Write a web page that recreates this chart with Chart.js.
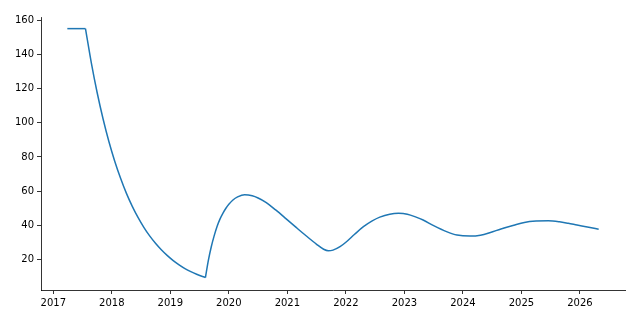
<!DOCTYPE html>
<html>
<head>
<meta charset="utf-8">
<script src="https://cdn.jsdelivr.net/npm/chart.js@4/dist/chart.umd.min.js"></script>
<style>
  html, body { margin: 0; padding: 0; background: #fff; }
  #wrap { width: 640px; height: 320px; }
</style>
</head>
<body>
<div id="wrap"><canvas id="chart" width="640" height="320"></canvas></div>
<script>
// values (x in fractional years)
var years = [
    2017.24, 2017.55, 2017.65, 2017.75, 2017.85, 2017.95, 2018.05, 2018.15, 2018.25, 2018.35,
    2018.45, 2018.55, 2018.65, 2018.75, 2018.85, 2018.95, 2019.05, 2019.15, 2019.25, 2019.35,
    2019.45, 2019.60, 2019.65, 2019.70, 2019.75, 2019.80, 2019.85, 2019.90, 2019.95, 2020.00,
    2020.07, 2020.15, 2020.27, 2020.40, 2020.50, 2020.64, 2020.80, 2020.98, 2021.15, 2021.33,
    2021.50, 2021.62, 2021.70, 2021.78, 2021.90, 2022.01, 2022.15, 2022.30, 2022.45, 2022.58,
    2022.75, 2022.90, 2023.05, 2023.20, 2023.32, 2023.50, 2023.72, 2023.90, 2024.12, 2024.30,
    2024.47, 2024.65, 2024.87, 2025.05, 2025.25, 2025.46, 2025.65, 2025.80, 2025.95, 2026.15,
    2026.32
];
var values = [
    155, 155, 135, 117.5, 102.3, 89, 77.5, 67.5, 58.7, 51.1,
    44.5, 38.7, 33.7, 29.4, 25.6, 22.3, 19.4, 16.9, 14.7, 12.9,
    11.4, 9.5, 19.5, 27.5, 34, 39.5, 43.8, 47.2, 50, 52.3,
    54.8, 56.6, 57.9, 57.3, 56, 53.3, 49, 43.8, 38.8, 33.6,
    28.9, 26, 25.1, 25.5, 27.5, 30.4, 34.8, 39.2, 42.6, 44.8,
    46.5, 47, 46.5, 44.8, 43.1, 39.8, 36.3, 34.3, 33.7, 34.2,
    35.8, 37.9, 40.1, 41.7, 42.5, 42.7, 42.1, 41.2, 40.2, 38.9,
    37.7
];
// indices where the curve has a sharp corner
var corners = [1, 21];
var xTicks = [2017, 2018, 2019, 2020, 2021, 2022, 2023, 2024, 2025, 2026];
var yTicks = [20, 40, 60, 80, 100, 120, 140, 160];

var points = years.map(function (x, i) { return { x: x, y: values[i] }; });

// split at the corners so smoothing keeps them sharp
var bounds = [0].concat(corners, [points.length - 1]);
var datasets = [];
for (var i = 0; i < bounds.length - 1; i++) {
    datasets.push({
        data: points.slice(bounds[i], bounds[i + 1] + 1),
        borderColor: '#1f77b4',
        borderWidth: 1.5,
        pointRadius: 0,
        cubicInterpolationMode: 'monotone',
        borderCapStyle: 'butt',
        fill: false
    });
}

var tickFont = { family: 'DejaVu Sans', size: 10 };

new Chart(document.getElementById('chart').getContext('2d'), {
    type: 'line',
    data: { datasets: datasets },
    options: {
        responsive: false,
        animation: false,
        layout: { padding: { left: 0, right: 15, top: 17, bottom: 0 } },
        plugins: {
            legend: { display: false },
            tooltip: { enabled: false }
        },
        scales: {
            x: {
                type: 'linear',
                min: 2016.79,
                max: 2026.77,
                afterBuildTicks: function (scale) {
                    scale.ticks = xTicks.map(function (v) { return { value: v }; });
                },
                afterFit: function (scale) { scale.height = 30; },
                grid: {
                    drawOnChartArea: false,
                    drawTicks: true,
                    tickLength: 4,
                    tickWidth: 0.8,
                    tickColor: '#000'
                },
                border: { display: true, color: '#000', width: 0.8 },
                ticks: {
                    font: tickFont,
                    color: '#000',
                    padding: 3,
                    maxRotation: 0,
                    autoSkip: false,
                    callback: function (v) { return String(v); }
                }
            },
            y: {
                min: 2.2,
                max: 161.8,
                afterBuildTicks: function (scale) {
                    scale.ticks = yTicks.map(function (v) { return { value: v }; });
                },
                afterFit: function (scale) { scale.width = 41; },
                grid: {
                    drawOnChartArea: false,
                    drawTicks: true,
                    tickLength: 4,
                    tickWidth: 0.8,
                    tickColor: '#000'
                },
                border: { display: true, color: '#000', width: 0.8 },
                ticks: {
                    font: tickFont,
                    color: '#000',
                    padding: 3,
                    autoSkip: false
                }
            }
        }
    }
});
</script>
</body>
</html>
